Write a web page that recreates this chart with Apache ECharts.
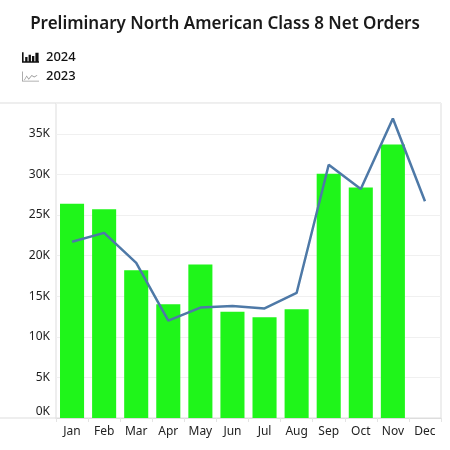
<!DOCTYPE html>
<html>
<head>
<meta charset="utf-8">
<script src="https://cdn.jsdelivr.net/npm/echarts@6/dist/echarts.min.js"></script>
<style>
  html, body { margin: 0; padding: 0; background: #fff; }
  #chart { width: 450px; height: 450px; }
</style>
</head>
<body>
<div id="chart"></div>
<script>
const months = ['Jan', 'Feb', 'Mar', 'Apr', 'May', 'Jun', 'Jul', 'Aug', 'Sep', 'Oct', 'Nov', 'Dec'];
const orders2024 = [26400, 25700, 18200, 14000, 18900, 13100, 12400, 13400, 30100, 28400, 33700, null];
const orders2023 = [21700, 22800, 19100, 12000, 13600, 13800, 13500, 15400, 31200, 28200, 36900, 26700];

// legend glyphs (small bar-chart and line-chart pictograms)
const barIcon = 'path://M0,0h1.5v8.5h14.5v1.5h-16z M3,4.5h2.2v4h-2.2z M6.2,2.5h2.2v6h-2.2z M9.4,3.5h2.2v5h-2.2z M12.6,0.5h3v8h-3z';
const lineIcon = 'path://M0,0h0.8v9.2h16v0.8h-16.8z M2,8.4l2.6,-4.4l2,3l3,-3.6l2.5,1.6l2.6,-1.6l0.5,0.7l-3.1,1.9l-2.4,-1.5l-3.1,3.7l-2,-3l-2,3.5z';

const chart = echarts.init(document.getElementById('chart'));

const option = {
  animation: false,
  textStyle: { fontFamily: 'Noto Sans' },
  title: {
    text: 'Preliminary North American Class 8 Net Orders',
    left: 'center',
    top: 11,
    textStyle: { fontSize: 17, fontWeight: 600, color: '#1a1a1a' }
  },
  legend: {
    orient: 'vertical',
    left: 17,
    top: 46,
    itemGap: 6,
    itemWidth: 17,
    itemHeight: 11,
    textStyle: { fontSize: 13, fontWeight: 500, color: '#111', padding: [0, 0, 0, 2] },
    data: [
      { name: '2024', icon: barIcon, itemStyle: { color: '#111' } },
      { name: '2023', icon: lineIcon, itemStyle: { color: '#999' } }
    ]
  },
  grid: {
    left: 56,
    right: 9,
    top: 103,
    bottom: 32,
    show: true,
    borderColor: '#ddd',
    borderWidth: 1
  },
  graphic: [
    { type: 'line', shape: { x1: 0, y1: 103, x2: 56, y2: 103 }, style: { stroke: '#ddd', lineWidth: 1 } },
    { type: 'line', shape: { x1: 0, y1: 418, x2: 56, y2: 418 }, style: { stroke: '#ddd', lineWidth: 1 } }
  ],
  xAxis: {
    type: 'category',
    data: months,
    axisLine: { lineStyle: { color: '#ddd' } },
    axisTick: { show: true, length: 4, lineStyle: { color: '#e4e4e4' } },
    axisLabel: { color: '#222', fontSize: 12, margin: 8 }
  },
  yAxis: {
    type: 'value',
    min: 0,
    max: 38800,
    interval: 5000,
    axisLine: { show: false },
    axisTick: { show: false },
    splitLine: { lineStyle: { color: '#f0f0f0' } },
    axisLabel: {
      color: '#222',
      fontSize: 12,
      margin: 6,
      showMaxLabel: false,
      formatter: v => v === 0 ? '{z|0K}' : (v / 1000) + 'K',
      rich: { z: { fontSize: 12, color: '#222', padding: [0, 0, 12, 0] } }
    }
  },
  series: [
    {
      name: '2024',
      type: 'bar',
      data: orders2024,
      barCategoryGap: '25%',
      itemStyle: { color: '#1ff51a' }
    },
    {
      name: '2023',
      type: 'line',
      data: orders2023,
      symbol: 'none',
      lineStyle: { color: '#4e79a7', width: 2.5 },
      itemStyle: { color: '#4e79a7' }
    }
  ]
};

chart.setOption(option);
</script>
</body>
</html>
